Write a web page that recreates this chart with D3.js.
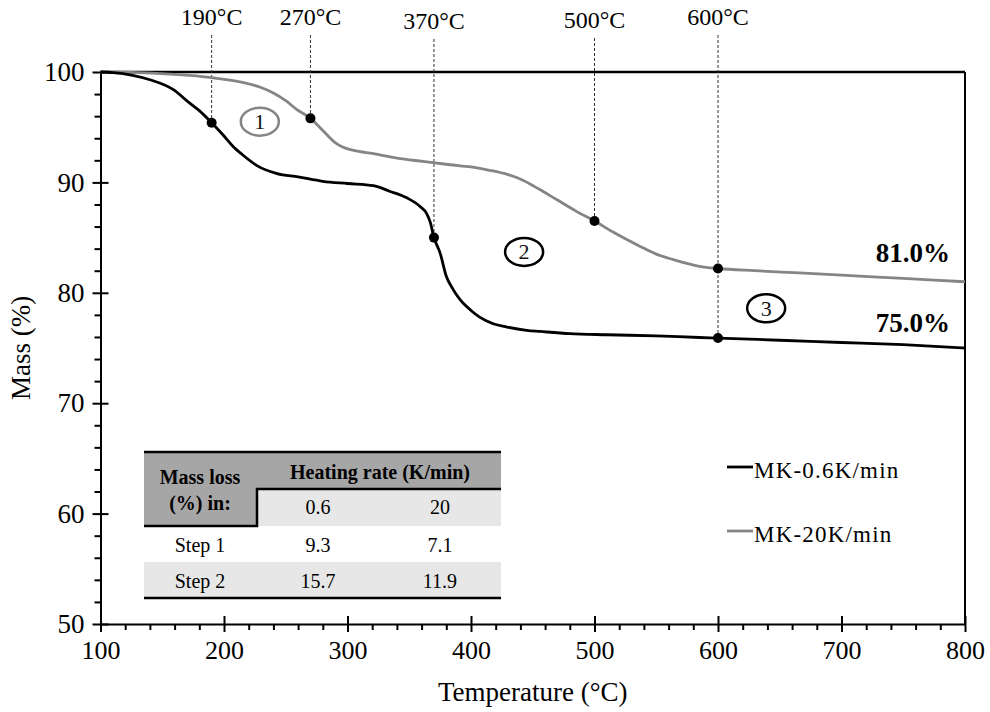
<!DOCTYPE html>
<html>
<head>
<meta charset="utf-8">
<script src="https://cdn.jsdelivr.net/npm/d3@7"></script>
<style>
  html, body { margin: 0; padding: 0; background: #fff; }
  svg { display: block; font-family: "Liberation Serif", "Times New Roman", serif; }
</style>
</head>
<body>
<svg id="chart" width="990" height="712"></svg>
<script>
// Thermogravimetric curves of MK at two heating rates
const tempSlow = [100,110,126,140,159,172,180,190,200,207,215,227,243,260,280,300,321,334,348,359,364,367,370,375,380,385,391,400,407,418,429,445,456,480,510,550,585,600,650,700,750,800];
const massSlow = [100,99.95,99.7,99.3,98.4,97.2,96.5,95.4,94.2,93.3,92.5,91.5,90.8,90.5,90.1,89.9,89.7,89.2,88.6,87.8,87.2,86.4,85.0,83.6,81.5,80.4,79.4,78.4,77.8,77.2,76.9,76.6,76.5,76.3,76.2,76.1,75.95,75.9,75.7,75.5,75.3,75.0];

const tempFast = [100,130,172,190,213,230,240,250,259,270,280,290,296,305,321,340,361,383,400,415,430,442,455,470,485,500,515,537,550,564,585,600,630,666,700,750,800];
const massFast = [100,99.95,99.7,99.5,99.1,98.6,98.1,97.4,96.6,95.8,94.7,93.6,93.2,92.9,92.6,92.2,91.9,91.6,91.4,91.1,90.7,90.2,89.4,88.4,87.4,86.5,85.5,84.2,83.5,83.0,82.4,82.2,82.0,81.8,81.6,81.3,81.0];

const seriesNames = ["MK-0.6K/min", "MK-20K/min"];
const seriesColors = ["#000000", "#858585"];

// Marked transition temperatures and the masses read at them
const markTemps = [190, 270, 370, 500, 600];
const markMasses = [95.4, 95.8, 85.0, 86.5, 75.9];
const markLabelDrop = [0, 0, 4, 3, 0];        // small vertical offsets of the labels
const extraDots = [{t: 600, m: 82.2}];        // second point on the 600 °C guide

const finalLabels = ["75.0%", "81.0%"];
const finalMass = [75.0, 81.0];
const finalLift = [16, 20];

const steps = [{n: "1", t: 229, m: 95.5, c: "#858585"}, {n: "2", t: 443, m: 83.7, c: "#000"}, {n: "3", t: 639, m: 78.6, c: "#000"}];

const xTicks = [100, 200, 300, 400, 500, 600, 700, 800];
const yTicks = [50, 60, 70, 80, 90, 100];

// Summary table
const tableHeader = ["Mass loss", "(%) in:"];
const rateTitle = "Heating rate (K/min)";
const rates = ["0.6", "20"];
const stepNames = ["Step 1", "Step 2"];
const lossSlow = [9.3, 15.7];
const lossFast = [7.1, 11.9];

const svg = d3.select("#chart");
const pL = 100.5, pR = 965, pT = 72, pB = 624;

const x = d3.scaleLinear().domain([100, 800]).range([pL, pR]);
const y = d3.scaleLinear().domain([50, 100]).range([pB, pT]);

// frame
svg.append("line").attr("x1", pL).attr("x2", pR).attr("y1", pT).attr("y2", pT)
  .attr("stroke", "#000").attr("stroke-width", 2.5);
svg.append("line").attr("x1", pR).attr("x2", pR).attr("y1", pT).attr("y2", pB)
  .attr("stroke", "#000").attr("stroke-width", 2);

// axes: major ticks cross the axis line, minor ticks sit outside
const xMinor = d3.range(100, 801, 20).filter(v => v % 100 !== 0);
const yMinor = d3.range(50, 101, 2).filter(v => v % 10 !== 0);

function styleAxis(g, size) {
  g.selectAll("path, line").attr("stroke", "#000").attr("stroke-width", 2);
  g.selectAll("text").attr("font-family", "Liberation Serif").attr("font-size", size).attr("fill", "#000");
}

const gx = svg.append("g").attr("transform", `translate(0,${pB})`);
gx.call(d3.axisBottom(x).tickValues(xTicks).tickSize(8).tickSizeOuter(0).tickPadding(9).tickFormat(d3.format("d"))).call(styleAxis, 26);
gx.selectAll(".tick line").attr("y1", -8);
svg.append("g").attr("transform", `translate(0,${pB})`)
  .call(d3.axisBottom(x).tickValues(xMinor).tickSize(6).tickFormat(""))
  .call(g => g.select(".domain").remove()).call(styleAxis, 26);

const gy = svg.append("g").attr("transform", `translate(${pL},0)`);
gy.call(d3.axisLeft(y).tickValues(yTicks).tickSize(8).tickSizeOuter(0).tickPadding(8).tickFormat(d3.format("d"))).call(styleAxis, 27);
gy.selectAll(".tick line").attr("x1", 8);
svg.append("g").attr("transform", `translate(${pL},0)`)
  .call(d3.axisLeft(y).tickValues(yMinor).tickSize(6).tickFormat(""))
  .call(g => g.select(".domain").remove()).call(styleAxis, 27);

// axis titles
svg.append("text").attr("x", (pL + pR) / 2).attr("y", 701).attr("text-anchor", "middle")
  .attr("font-size", 27).text("Temperature (°C)");
svg.append("text").attr("transform", `translate(30,${(pT + pB) / 2}) rotate(-90)`)
  .attr("text-anchor", "middle").attr("font-size", 27).text("Mass (%)");

// dashed guides and their labels
markTemps.forEach((t, i) => {
  const yEnd = y(markMasses[i]);
  svg.append("line").attr("x1", x(t)).attr("x2", x(t)).attr("y1", 35 + markLabelDrop[i]).attr("y2", yEnd)
    .attr("stroke", "#333").attr("stroke-width", 1).attr("stroke-dasharray", "3,2");
  svg.append("text").attr("x", x(t)).attr("y", 25 + markLabelDrop[i]).attr("text-anchor", "middle")
    .attr("font-size", 24).text(`${t}°C`);
});

// curves
const line = d3.line().x(d => x(d[0])).y(d => y(d[1])).curve(d3.curveMonotoneX);
const curves = [d3.zip(tempSlow, massSlow), d3.zip(tempFast, massFast)];
[1, 0].forEach(i => {
  svg.append("path").datum(curves[i]).attr("d", line).attr("fill", "none")
    .attr("stroke", seriesColors[i]).attr("stroke-width", 2.8).attr("stroke-linejoin", "round");
});

// points on the curves
markTemps.forEach((t, i) => {
  svg.append("circle").attr("cx", x(t)).attr("cy", y(markMasses[i])).attr("r", 5).attr("fill", "#000");
});
extraDots.forEach(d => {
  svg.append("circle").attr("cx", x(d.t)).attr("cy", y(d.m)).attr("r", 5).attr("fill", "#000");
});

// final mass labels
finalLabels.forEach((s, i) => {
  svg.append("text").attr("x", 950).attr("y", y(finalMass[i]) - finalLift[i]).attr("text-anchor", "end")
    .attr("font-size", 27).attr("font-weight", "bold").text(s);
});

// step markers
steps.forEach(s => {
  svg.append("ellipse").attr("cx", x(s.t)).attr("cy", y(s.m)).attr("rx", 19).attr("ry", 14)
    .attr("fill", "none").attr("stroke", s.c).attr("stroke-width", 2.5);
  svg.append("text").attr("x", x(s.t)).attr("y", y(s.m) + 7.5).attr("text-anchor", "middle")
    .attr("font-size", 22).attr("fill", "#111").text(s.n);
});

// legend
seriesNames.forEach((name, i) => {
  const ly = 467 + i * 64;
  svg.append("line").attr("x1", 727).attr("x2", 753).attr("y1", ly).attr("y2", ly)
    .attr("stroke", seriesColors[i]).attr("stroke-width", 2.8);
  svg.append("text").attr("x", 754).attr("y", ly + 10.5).attr("font-size", 23)
    .attr("letter-spacing", 1.2).text(name);
});

// table of mass losses
const tb = {l: 144, r: 501, c: 257, top: 452, mid: 489, hb: 526, r1: 562, r2: 597};
const colX = [200, 318, 440];
svg.append("path")
  .attr("d", `M${tb.l},${tb.top}H${tb.r}V${tb.mid}H${tb.c}V${tb.hb}H${tb.l}Z`)
  .attr("fill", "#a6a6a6");
svg.append("rect").attr("x", tb.c).attr("y", tb.mid).attr("width", tb.r - tb.c).attr("height", tb.hb - tb.mid)
  .attr("fill", "#e7e7e7");
svg.append("rect").attr("x", tb.l).attr("y", tb.r1).attr("width", tb.r - tb.l).attr("height", tb.r2 - tb.r1)
  .attr("fill", "#e7e7e7");
const tl = (d) => svg.append("path").attr("d", d).attr("fill", "none").attr("stroke", "#000").attr("stroke-width", 2.5);
tl(`M${tb.l},${tb.top}H${tb.r}`);
tl(`M${tb.r},${tb.mid}H${tb.c}V${tb.hb}H${tb.l}`);
tl(`M${tb.l},${tb.r2 + 1}H${tb.r}`);

svg.append("text").attr("x", colX[0]).attr("y", 484).attr("text-anchor", "middle")
  .attr("font-size", 20).attr("font-weight", "bold").text(tableHeader[0]);
svg.append("text").attr("x", colX[0]).attr("y", 510).attr("text-anchor", "middle")
  .attr("font-size", 20).attr("font-weight", "bold").text(tableHeader[1]);
svg.append("text").attr("x", (colX[1] + colX[2]) / 2 + 1).attr("y", 479).attr("text-anchor", "middle")
  .attr("font-size", 20).attr("font-weight", "bold").text(rateTitle);
rates.forEach((r, j) => {
  svg.append("text").attr("x", colX[j + 1]).attr("y", 514).attr("text-anchor", "middle")
    .attr("font-size", 20).text(r);
});
stepNames.forEach((s, i) => {
  const ry = 552 + i * 36;
  svg.append("text").attr("x", colX[0]).attr("y", ry).attr("text-anchor", "middle").attr("font-size", 20).text(s);
  svg.append("text").attr("x", colX[1]).attr("y", ry).attr("text-anchor", "middle").attr("font-size", 20).text(lossSlow[i].toFixed(1));
  svg.append("text").attr("x", colX[2]).attr("y", ry).attr("text-anchor", "middle").attr("font-size", 20).text(lossFast[i].toFixed(1));
});
</script>
</body>
</html>
